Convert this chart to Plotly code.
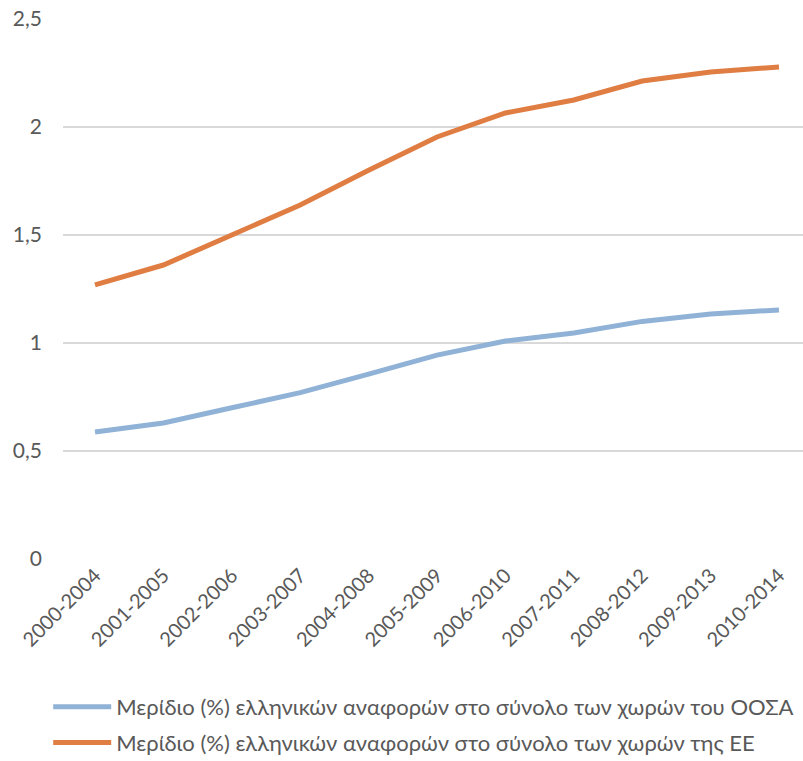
import plotly.graph_objects as go

periods = ["2000-2004", "2001-2005", "2002-2006", "2003-2007", "2004-2008", "2005-2009",
           "2006-2010", "2007-2011", "2008-2012", "2009-2013", "2010-2014"]
share_oecd = [0.588, 0.630, 0.700, 0.770, 0.856, 0.944, 1.009, 1.046, 1.100, 1.134, 1.153]
share_eu = [1.269, 1.361, 1.500, 1.639, 1.800, 1.954, 2.065, 2.125, 2.213, 2.255, 2.278]
name_oecd = "Μερίδιο (%) ελληνικών αναφορών στο σύνολο των χωρών του ΟΟΣΑ"
name_eu = "Μερίδιο (%) ελληνικών αναφορών στο σύνολο των χωρών της ΕΕ"
y_ticks = [0, 0.5, 1, 1.5, 2, 2.5]
y_tick_text = ["0", "0,5", "1", "1,5", "2", "2,5"]

text_color = "#595959"
font_family = "Lato"
fig = go.Figure()
fig.add_trace(go.Scatter(x=periods, y=share_oecd, mode="lines", name=name_oecd,
                         legendgroup="oecd",
                         line=dict(color="#8FB2D6", width=5)))
fig.add_trace(go.Scatter(x=periods, y=share_eu, mode="lines", name=name_eu,
                         legendgroup="eu",
                         line=dict(color="#DF7D42", width=5)))

plot_h = 761 - 19 - 202
fig.update_layout(
    width=803, height=761,
    margin=dict(l=63, r=0, t=19, b=202, autoexpand=False),
    paper_bgcolor="white", plot_bgcolor="white",
    font=dict(family=font_family, color=text_color),
    legend=dict(font=dict(family=font_family, size=22, color=text_color),
                bgcolor="rgba(0,0,0,0)", itemwidth=58, tracegroupgap=4,
                orientation="v", xanchor="left", yanchor="top",
                x=-0.02, y=-(686 - 559) / plot_h, traceorder="grouped"),
    xaxis=dict(type="category", range=[-0.468, 10.351], showgrid=False, showline=False,
               ticks="", tickangle=-45, tickfont=dict(family=font_family, size=20, color=text_color)),
    yaxis=dict(range=[0, 2.5], tickvals=y_ticks, ticktext=y_tick_text, showgrid=True,
               gridcolor="#D9D9D9", gridwidth=1.5, zeroline=False, showline=False, ticks="",
               ticklabelstandoff=20, tickfont=dict(family=font_family, size=21, color=text_color)),
)
fig.write_html("out.html")
